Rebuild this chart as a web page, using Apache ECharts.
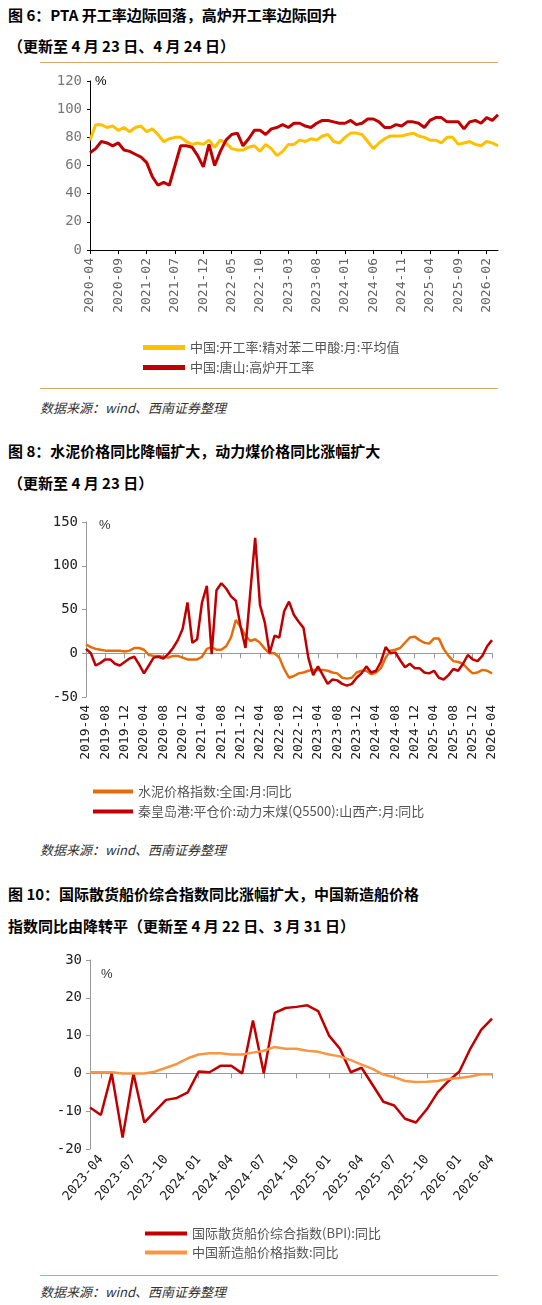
<!DOCTYPE html>
<html><head><meta charset="utf-8">
<script src="https://cdn.jsdelivr.net/npm/echarts@6/dist/echarts.min.js"></script>
<style>
body{margin:0;width:542px;height:1305px;background:#fff;position:relative;font-family:"Noto Sans CJK SC",sans-serif;}
.t{position:absolute;left:8px;font-size:15px;font-weight:bold;color:#000;white-space:nowrap;}
.s{position:absolute;left:40px;font-size:13px;font-style:italic;color:#333;}
.hr{position:absolute;left:40px;width:458px;height:1px;background:#D6A86A;}
.c{position:absolute;left:0;width:542px;}
</style></head><body>
<div class="t" style="top:4px">图 6：PTA 开工率边际回落，高炉开工率边际回升</div>
<div class="t" style="top:35px">（更新至 4 月 23 日、4 月 24 日）</div>
<div class="hr" style="top:62px"></div>
<div class="c" id="c1" style="top:60px;height:325px"></div>
<div class="hr" style="top:388px"></div>
<div class="s" style="top:398px">数据来源：wind、西南证券整理</div>
<div class="t" style="top:440px">图 8：水泥价格同比降幅扩大，动力煤价格同比涨幅扩大</div>
<div class="t" style="top:472px">（更新至 4 月 23 日）</div>
<div class="c" id="c2" style="top:505px;height:325px"></div>
<div class="s" style="top:840px">数据来源：wind、西南证券整理</div>
<div class="t" style="top:883px">图 10：国际散货船价综合指数同比涨幅扩大，中国新造船价格</div>
<div class="t" style="top:915px">指数同比由降转平（更新至 4 月 22 日、3 月 31 日）</div>
<div class="c" id="c3" style="top:950px;height:320px"></div>
<div class="hr" style="top:1275px"></div>
<div class="s" style="top:1282px">数据来源：wind、西南证券整理</div>
<script>
function months(y, m, n) {
  const out = [];
  for (let i = 0; i < n; i++) {
    const mm = (m - 1 + i) % 12 + 1, yy = y + Math.floor((m - 1 + i) / 12);
    out.push(yy + '-' + (mm < 10 ? '0' : '') + mm);
  }
  return out;
}
// chart 1
const cats1 = months(2020, 4, 73);
const pta = [78,89,89,87,88,85,87,84,87,88,84,86,82,77,79,80,80,77,75,76,75,78,73,78,76,72,71,71,73,74,70,75,72,67,70,75,75,78,77,79,78,81,82,77,76,80,83,83,82,77,72,76,79,81,81,81,82,83,81,80,78,78,76,80,80,75,76,77,75,74,77,76,74];
const blast = [69,72,77,76,74,76,71,70,68,66,62,52,46,48,46,60,74,74,73,67,59,75,60,70,78,82,83,74,79,85,85,82,86,87,89,87,90,90,88,87,90,92,92,91,90,90,92,89,90,93,93,91,87,87,89,88,91,91,90,87,92,94,94,91,91,91,86,91,92,90,94,92,96];
// chart 2
const cats2 = months(2019, 4, 85);
const cement = [10,7,5,4,3,3,3,3,2,3,6,6,4,-2,-3,-3,-4,-5,-3,-3,-5,-7,-7,-7,-4,5,7,4,4,8,18,38,30,20,14,16,12,5,0,0,-5,-18,-28,-26,-23,-22,-20,-19,-19,-19,-20,-22,-23,-28,-29,-28,-22,-20,-20,-24,-22,-17,-5,3,4,6,12,18,19,15,12,11,17,17,5,-3,-9,-10,-12,-18,-23,-22,-19,-20,-23];
const coal = [5,0,-14,-11,-7,-7,-12,-14,-10,-6,-4,-13,-23,-14,-5,-4,-6,-1,6,15,28,58,12,16,58,77,-1,72,80,74,65,60,30,6,70,132,55,35,0,20,18,48,59,44,36,29,-5,-25,-15,-25,-35,-30,-31,-35,-37,-35,-28,-23,-15,-22,-20,-10,7,0,1,-8,-16,-12,-17,-17,-22,-23,-20,-28,-30,-25,-18,-20,-12,-2,-7,-9,-3,8,15];
// chart 3
const cats3 = months(2023, 3, 38);
const bpi = [-9,-11,0,-17,0,-13,-10,-7,-6.5,-5,0.5,0.3,2,2,0,14,0,16,17.3,17.6,18,16.5,10,6.5,0.3,1.5,-3,-7.5,-8.5,-12,-13,-9.5,-5,-2,0.5,6.5,11.5,14.5];
const newbuild = [0.3,0.3,0.3,0,0,0,0.5,1.5,2.5,4,5,5.3,5.3,5,5,5.5,6,7,6.5,6.5,6,5.7,5,4.5,3.5,2.3,1.2,-0.3,-1,-2,-2.3,-2.2,-2,-1.5,-1.2,-0.8,-0.2,-0.2];

const mono = 'DejaVu Sans Mono';
const legendText = {fontSize: 13, color: '#555', fontFamily: 'Noto Sans CJK SC'};

const ch1 = echarts.init(document.getElementById('c1'));
ch1.setOption({
  animation: false,
  grid: {left: 90, right: 44, top: 21, height: 169},
  xAxis: {type: 'category', data: cats1, boundaryGap: false,
    axisLine: {lineStyle: {color: '#000'}}, axisTick: {interval: 4, length: 4},
    axisLabel: {interval: 4, rotate: 90, fontFamily: mono, fontSize: 13, color: '#666'}},
  yAxis: {type: 'value', min: 0, max: 120, interval: 20, splitLine: {show: false},
    axisLine: {show: true, lineStyle: {color: '#000'}}, axisTick: {show: true, length: 3},
    axisLabel: {fontFamily: mono, fontSize: 14, color: '#777'}},
  graphic: [{type: 'text', left: 95, top: 15, style: {text: '%', fontSize: 13, fill: '#000'}}],
  legend: {orient: 'vertical', left: 138, top: 276, itemWidth: 42, itemHeight: 5, icon: 'rect', itemGap: 7, textStyle: legendText},
  series: [
    {name: '中国:开工率:精对苯二甲酸:月:平均值', type: 'line', data: pta, showSymbol: false, lineStyle: {width: 3, color: '#FFC000'}, itemStyle: {color: '#FFC000'}},
    {name: '中国:唐山:高炉开工率', type: 'line', data: blast, showSymbol: false, lineStyle: {width: 3, color: '#C00000'}, itemStyle: {color: '#C00000'}}
  ]
});

function zeroAxes(cats, labelInterval, rotate) {
  return [
    {type: 'category', data: cats, boundaryGap: false, axisLine: {onZero: true, lineStyle: {color: '#999'}},
      axisTick: {interval: labelInterval, length: 5, lineStyle: {color: '#999'}}, axisLabel: {show: false}},
    {type: 'category', data: cats, boundaryGap: false, position: 'bottom', offset: 0,
      axisLine: {show: false}, axisTick: {show: false},
      axisLabel: {interval: labelInterval, rotate: rotate, fontFamily: mono, fontSize: 13, color: '#222'}}
  ];
}

const ch2 = echarts.init(document.getElementById('c2'));
ch2.setOption({
  animation: false,
  grid: {left: 86, right: 50, top: 17, height: 175},
  xAxis: zeroAxes(cats2, 3, 90),
  yAxis: {type: 'value', min: -50, max: 150, interval: 50, splitLine: {show: false},
    axisLine: {show: true, lineStyle: {color: '#999'}}, axisTick: {show: true, length: 4},
    axisLabel: {fontFamily: mono, fontSize: 14, color: '#222'}},
  graphic: [{type: 'text', left: 99, top: 14, style: {text: '%', fontSize: 13, fill: '#333'}}],
  legend: {orient: 'vertical', left: 88, top: 275, itemWidth: 40, itemHeight: 4, icon: 'rect', itemGap: 7, textStyle: legendText},
  series: [
    {name: '水泥价格指数:全国:月:同比', type: 'line', data: cement, showSymbol: false, lineStyle: {width: 2.5, color: '#E46C0A'}, itemStyle: {color: '#E46C0A'}},
    {name: '秦皇岛港:平仓价:动力末煤(Q5500):山西产:月:同比', type: 'line', data: coal, showSymbol: false, lineStyle: {width: 2.5, color: '#C00000'}, itemStyle: {color: '#C00000'}}
  ]
});

const ch3 = echarts.init(document.getElementById('c3'));
const x3 = zeroAxes(cats3, 2, 50);
x3.forEach(a => { a.axisLabel.interval = (i) => i % 3 === 1; a.axisTick.interval = (i) => i % 3 === 1; });
ch3.setOption({
  animation: false,
  grid: {left: 90, right: 50, top: 10, height: 189},
  xAxis: x3,
  yAxis: {type: 'value', min: -20, max: 30, interval: 10, splitLine: {show: false},
    axisLine: {show: true, lineStyle: {color: '#999'}}, axisTick: {show: true, length: 4},
    axisLabel: {fontFamily: mono, fontSize: 14, color: '#222'}},
  graphic: [{type: 'text', left: 101, top: 18, style: {text: '%', fontSize: 13, fill: '#333'}}],
  legend: {orient: 'vertical', left: 140, top: 272, itemWidth: 42, itemHeight: 4, icon: 'rect', itemGap: 6, textStyle: legendText},
  series: [
    {name: '国际散货船价综合指数(BPI):同比', type: 'line', data: bpi, showSymbol: false, lineStyle: {width: 2.5, color: '#C00000'}, itemStyle: {color: '#C00000'}},
    {name: '中国新造船价格指数:同比', type: 'line', data: newbuild, showSymbol: false, lineStyle: {width: 2.5, color: '#F79646'}, itemStyle: {color: '#F79646'}}
  ]
});
</script></body></html>
